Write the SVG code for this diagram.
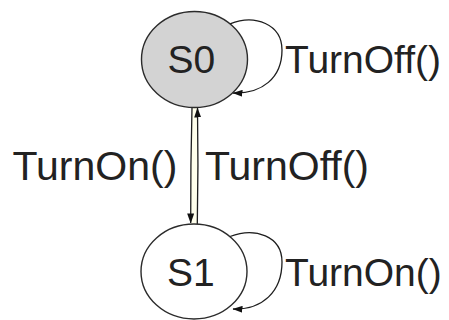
<svg xmlns="http://www.w3.org/2000/svg" width="449" height="320" viewBox="0 0 449 320">
  <style>
    .state { stroke: #2b2b2b; stroke-width: 1.4; }
    .edge { fill: none; stroke: #1e1e1e; stroke-width: 1.3; }
    .lbl { font-family: "Liberation Sans", Arial, sans-serif; fill: #222222; }
  </style>
  <defs>
    <marker id="arrow" markerUnits="userSpaceOnUse" markerWidth="10" markerHeight="7" refX="9.5" refY="3.5" orient="auto">
      <path d="M0,0 L10,3.5 L0,7 z" fill="#111"/>
    </marker>
  </defs>

  <!-- transitions -->
  <g id="connectors">
    <!-- band between the two straight transitions -->
    <path d="M192,107.5 Q190.5,165 190.7,224 L197.3,224 Q198.5,165 197.5,107.5 z" fill="#FFFFEC" stroke="none"/>
    <!-- S0 -> S1 : TurnOn() -->
    <path class="edge" d="M192,107.5 Q190.5,165 190.7,223" marker-end="url(#arrow)"/>
    <!-- S1 -> S0 : TurnOff() -->
    <path class="edge" d="M197.3,224 Q198.5,165 197.5,108" marker-end="url(#arrow)"/>
    <!-- S0 self loop : TurnOff() -->
    <path class="edge" d="M230,23.8 C255,14 282,24 282,50 C282,78 262,94 233,93" marker-end="url(#arrow)"/>
    <!-- S1 self loop : TurnOn() -->
    <path class="edge" d="M230,236.5 C255,227 282,236 282,262 C282,292 262,310 233,309" marker-end="url(#arrow)"/>
  </g>

  <g id="S0">
    <ellipse class="state" cx="194.5" cy="59.5" rx="53" ry="48" fill="#D3D3D3"/>
    <text class="lbl" x="167.5" y="73" font-size="39">S0</text>
  </g>

  <g id="S1">
    <ellipse class="state" cx="194" cy="271.5" rx="53" ry="47.5" fill="#FFFFFF"/>
    <text class="lbl" x="167" y="285.5" font-size="39">S1</text>
  </g>

  <g id="labels">
    <text class="lbl" x="285" y="72.5" font-size="39">TurnOff()</text>
    <text class="lbl" x="285" y="286" font-size="39">TurnOn()</text>
    <text class="lbl" x="12.5" y="180" font-size="41">TurnOn()</text>
    <text class="lbl" x="205" y="180" font-size="41">TurnOff()</text>
  </g>
</svg>
